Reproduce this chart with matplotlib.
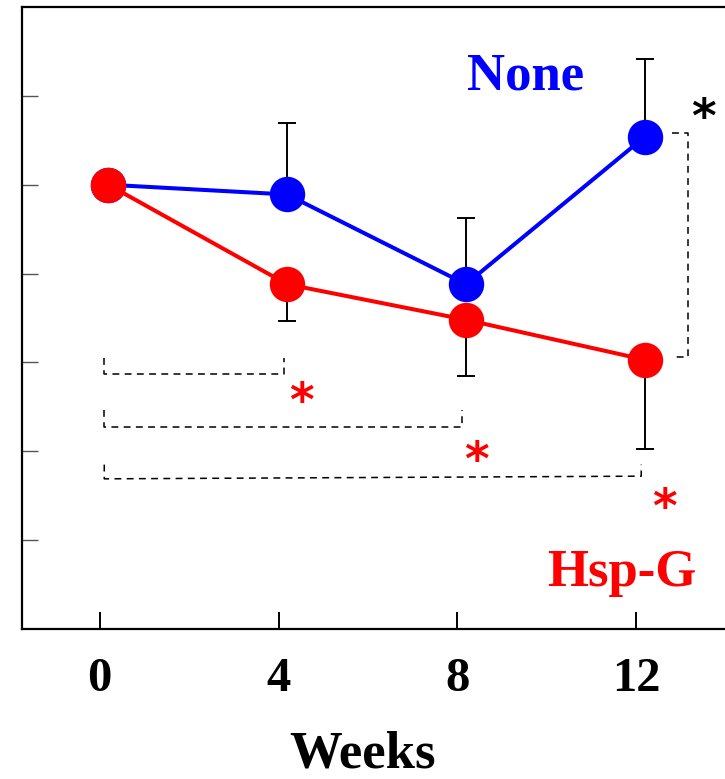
import matplotlib
matplotlib.use("Agg")
import matplotlib.pyplot as plt
import numpy as np

# ---- data ----
weeks = [0, 4, 8, 12]
tick_labels = ["0", "4", "8", "12"]
none_mean = [5.00, 4.89, 3.88, 5.54]
none_err_up = [0.00, 0.81, 0.75, 0.88]
hspg_mean = [5.00, 3.88, 3.48, 3.03]
hspg_err_down = [0.00, 0.41, 0.63, 1.00]

# significance brackets (Hsp-G week 0 vs week n), annotation levels
bracket_ends = [4, 8, 12]
bracket_levels = [2.87, 2.27, 1.69]
bracket_tops = [3.05, 2.46, 1.85]
star_pos = [(4.31, 2.63), (8.23, 1.96), (12.43, 1.44)]

serif = ["Liberation Serif", "DejaVu Serif"]

W, H, DPI = 7.25, 7.79, 100
fig = plt.figure(figsize=(W, H), dpi=DPI)
fig_w_px, fig_h_px = W * DPI, H * DPI

# axes extend beyond right edge of the figure (reference is cropped there)
ax_left_px, ax_top_px, ax_bot_px, ax_right_px = 22, 7, 629, 770
ax = fig.add_axes([ax_left_px / fig_w_px, 1 - ax_bot_px / fig_h_px,
                   (ax_right_px - ax_left_px) / fig_w_px,
                   (ax_bot_px - ax_top_px) / fig_h_px])
ax.set_xlim(-1.93, 14.8)
ax.set_ylim(0, 7)

x = np.array(weeks, dtype=float)

# None (blue)
ax.errorbar(x, none_mean, yerr=[np.zeros(4), none_err_up], fmt="none",
            ecolor="black", elinewidth=1.4, capsize=6.5, capthick=1.4, zorder=2)
ax.plot(x, none_mean, color="#0000ff", lw=2.9, marker="o", ms=25.5,
        markeredgewidth=0, zorder=3)
# Hsp-G (red)
ax.errorbar(x, hspg_mean, yerr=[hspg_err_down, np.zeros(4)], fmt="none",
            ecolor="black", elinewidth=1.4, capsize=6.5, capthick=1.4, zorder=2)
ax.plot(x, hspg_mean, color="#ff0000", lw=2.9, marker="o", ms=25.5,
        markeredgewidth=0, zorder=4)

dash = dict(color="black", lw=1.1, ls=(0, (4.5, 3.5)), zorder=1)
x0 = weeks[0] - 0.09
for end, lvl, top in zip(bracket_ends, bracket_levels, bracket_tops):
    xe = end - 0.08
    ax.plot([x0, x0, xe, xe], [top, lvl, lvl + (0.03 if end == 12 else 0), top], **dash)

star_dy = -0.09  # glyph sits high in its box
for (sx, sy) in star_pos:
    ax.text(sx, sy + star_dy, "*", color="#ff0000", fontsize=34, fontweight="bold",
            family=["DejaVu Sans"], ha="center", va="center")

# None vs Hsp-G at week 12
ax.plot([12.61, 12.97, 12.97, 12.61],
        [none_mean[3] + 0.04, none_mean[3] + 0.04, hspg_mean[3] + 0.03, hspg_mean[3] + 0.03], **dash)
ax.text(13.32, 5.82 + star_dy, "*", color="black", fontsize=34, fontweight="bold",
        family=["DejaVu Sans"], ha="center", va="center")

ax.text(9.34, 6.22, "None", color="#0000ff", fontsize=38, fontweight="bold",
        family=serif, ha="center", va="center")
ax.text(11.49, 0.63, "Hsp-G", color="#ff0000", fontsize=38, fontweight="bold",
        family=serif, ha="center", va="center")

# axes styling
ax.set_xticks([w - 0.19 for w in weeks])
ax.set_xticklabels(tick_labels, fontsize=35, fontweight="bold", family=serif)
ax.set_yticks([1, 2, 3, 4, 5, 6])
ax.set_yticklabels([])
ax.tick_params(axis="x", direction="in", length=12, width=1.4, pad=20, colors="black")
ax.tick_params(axis="y", direction="in", length=11.5, width=1.0, color="#555555")
for s in ["left", "bottom", "top", "right"]:
    ax.spines[s].set_linewidth(1.6)
    ax.spines[s].set_color("black")

fig.text(362 / fig_w_px, 1 - 768 / fig_h_px, "Weeks", fontsize=38, fontweight="bold",
         family=serif, ha="center", va="baseline")

fig.savefig("out.png", dpi=DPI)
